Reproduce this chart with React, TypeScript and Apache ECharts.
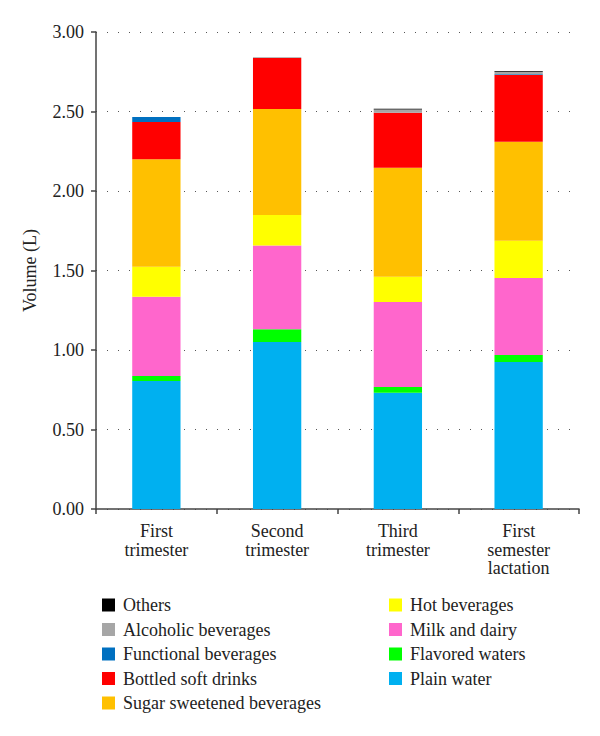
import React, { useEffect, useRef } from "react";
import * as echarts from "echarts";

const categories = ["First\ntrimester", "Second\ntrimester", "Third\ntrimester", "First\nsemester\nlactation"];
const plainWater = [0.805, 1.05, 0.731, 0.925];
const flavoredWaters = [0.032, 0.08, 0.036, 0.043];
const milkDairy = [0.498, 0.528, 0.535, 0.485];
const hotBeverages = [0.189, 0.191, 0.159, 0.234];
const sugarSweetened = [0.676, 0.667, 0.685, 0.623];
const bottledSoft = [0.234, 0.32, 0.346, 0.42];
const functionalBev = [0.031, 0, 0, 0.005];
const alcoholicBev = [0, 0.005, 0.02, 0.015];
const others = [0, 0, 0.005, 0.005];
const yTicks = [0, 0.5, 1, 1.5, 2, 2.5, 3];

const seriesDefs = [
  { name: "Plain water", data: plainWater, color: "#00B0F0" },
  { name: "Flavored waters", data: flavoredWaters, color: "#00FF00" },
  { name: "Milk and dairy", data: milkDairy, color: "#FF66CC" },
  { name: "Hot beverages", data: hotBeverages, color: "#FFFF00" },
  { name: "Sugar sweetened beverages", data: sugarSweetened, color: "#FFC000" },
  { name: "Bottled soft drinks", data: bottledSoft, color: "#FF0000" },
  { name: "Functional beverages", data: functionalBev, color: "#0070C0" },
  { name: "Alcoholic beverages", data: alcoholicBev, color: "#A6A6A6" },
  { name: "Others", data: others, color: "#000000" },
];

const FONT = "Liberation Serif";

export default function App() {
  const ref = useRef<HTMLDivElement>(null);
  useEffect(() => {
    if (!ref.current) return;
    const chart = echarts.init(ref.current, undefined, { renderer: "svg" });
    const legendText = { fontFamily: FONT, fontSize: 18, color: "#222", padding: [0, 0, 0, 3] };
    chart.setOption({
      animation: false,
      textStyle: { fontFamily: FONT },
      grid: { left: 96, right: 21, top: 32, bottom: 227, containLabel: false },
      xAxis: {
        type: "category",
        data: categories,
        axisLine: { lineStyle: { color: "#444", width: 1.5 } },
        axisTick: { show: true, length: 5, lineStyle: { color: "#444", width: 1.5 } },
        axisLabel: { fontFamily: FONT, fontSize: 18, color: "#222", lineHeight: 18.5, margin: 13 },
      },
      yAxis: {
        type: "value",
        min: 0,
        max: yTicks[yTicks.length - 1],
        interval: 0.5,
        name: "Volume (L)",
        nameLocation: "middle",
        nameGap: 57,
        nameTextStyle: { fontFamily: FONT, fontSize: 18, color: "#222" },
        axisLine: { show: true, lineStyle: { color: "#444", width: 1.5 } },
        axisTick: { show: true, length: 5, lineStyle: { color: "#444", width: 1.5 } },
        axisLabel: {
          fontFamily: FONT,
          fontSize: 18,
          color: "#222",
          margin: 12,
          formatter: (v: number) => v.toFixed(2),
        },
        splitLine: { show: true, lineStyle: { color: "#555", width: 1.2, type: [1, 10] } },
      },
      legend: [
        {
          orient: "vertical",
          left: 97,
          top: 591,
          icon: "rect",
          itemWidth: 13,
          itemHeight: 13,
          itemGap: 6.5,
          textStyle: legendText,
          data: ["Others", "Alcoholic beverages", "Functional beverages", "Bottled soft drinks", "Sugar sweetened beverages"],
        },
        {
          orient: "vertical",
          left: 384,
          top: 591,
          icon: "rect",
          itemWidth: 13,
          itemHeight: 13,
          itemGap: 6.5,
          textStyle: legendText,
          data: ["Hot beverages", "Milk and dairy", "Flavored waters", "Plain water"],
        },
      ],
      series: seriesDefs.map((s) => ({
        name: s.name,
        type: "bar",
        stack: "total",
        barWidth: "40%",
        data: s.data,
        itemStyle: { color: s.color },
      })),
    });
    return () => chart.dispose();
  }, []);
  return <div ref={ref} style={{ width: 600, height: 736, position: "absolute", left: 0, top: 0 }} />;
}
